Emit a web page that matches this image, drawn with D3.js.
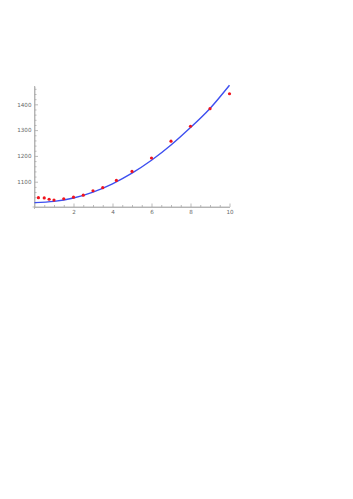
<!DOCTYPE html>
<html>
<head>
<meta charset="utf-8">
<script src="https://cdn.jsdelivr.net/npm/d3@7"></script>
<style>
  body { margin: 0; background: #fff; }
  .axis text { font-family: "DejaVu Sans", sans-serif; font-size: 5.6px; fill: #666; }
  .axis path, .axis line { stroke: #aaa; stroke-width: 0.8; }
</style>
</head>
<body>
<div id="chart"></div>
<script>
// measured points
const xs = [0.2, 0.5, 0.75, 1, 1.5, 2, 2.5, 3, 3.5, 4.2, 5, 6, 7, 8, 9, 10];
const ys = [1038, 1037, 1032, 1029, 1034, 1040, 1048, 1065, 1077, 1105, 1140, 1192, 1257, 1315, 1383, 1441];

const curveX = [0, 1, 2, 3, 4, 5, 6, 7, 8, 9, 10];
const curveY = [1019, 1024, 1037, 1060, 1092, 1133, 1183, 1242, 1310, 1384, 1474];

const xTicks = [2, 4, 6, 8, 10];
const yTicks = [1100, 1200, 1300, 1400];

const W = 353, H = 499;

const svg = d3.select("#chart").append("svg")
  .attr("width", W)
  .attr("height", H);

const x = d3.scaleLinear().domain([0, 10]).range([34.5, 229.5]);
const y = d3.scaleLinear().domain([1002, 1471]).range([207, 86]);

// minor ticks
const xMinor = d3.range(0, 10.01, 0.5).filter((v) => v % 2 !== 0);
const yMinor = d3.range(1020, 1470, 20).filter((v) => v % 100 !== 0);

svg.append("g")
  .attr("class", "axis")
  .attr("transform", `translate(0,${y(1002)})`)
  .call(d3.axisBottom(x).tickValues(xMinor).tickSize(-2).tickSizeOuter(0).tickFormat(""));

svg.append("g")
  .attr("class", "axis")
  .attr("transform", `translate(0,${y(1002)})`)
  .call(d3.axisBottom(x).tickValues(xTicks).tickSize(-3.5).tickSizeOuter(0).tickPadding(3.5).tickFormat(d3.format("d")))
  .select(".domain").attr("d", `M${x(-0.1)},0H${x(10)}`);

svg.append("g")
  .attr("class", "axis")
  .attr("transform", `translate(${x(0)},0)`)
  .call(d3.axisLeft(y).tickValues(yMinor).tickSize(-2).tickSizeOuter(0).tickFormat(""));

svg.append("g")
  .attr("class", "axis")
  .attr("transform", `translate(${x(0)},0)`)
  .call(d3.axisLeft(y).tickValues(yTicks).tickSize(-3.5).tickSizeOuter(0).tickPadding(3).tickFormat(d3.format("d")))
  .select(".domain").attr("d", `M0,${y(1471)}V${y(1002) + 2}`);

// fit line
const line = d3.line()
  .x((d, i) => x(curveX[i]))
  .y((d) => y(d))
  .curve(d3.curveNatural);

svg.append("path")
  .datum(curveY)
  .attr("d", line)
  .attr("fill", "none")
  .attr("stroke", "#3d4ff0")
  .attr("stroke-width", 1.4);

// points
svg.selectAll("circle.pt")
  .data(ys)
  .enter()
  .append("circle")
  .attr("class", "pt")
  .attr("cx", (d, i) => x(xs[i]))
  .attr("cy", (d) => y(d))
  .attr("r", 1.6)
  .attr("fill", "#f0141e");
</script>
</body>
</html>
